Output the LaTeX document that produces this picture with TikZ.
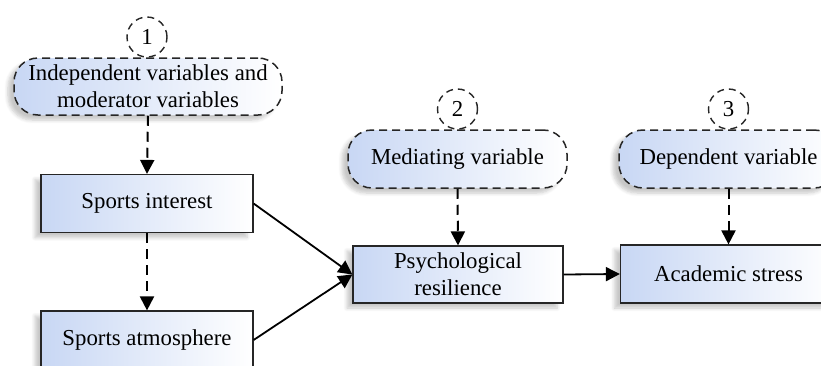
\documentclass[tikz,border=0pt]{standalone}
\usepackage{fontspec}
\setmainfont{Liberation Serif}
\usetikzlibrary{arrows.meta,shadows.blur}
\definecolor{boxblue}{RGB}{200,215,244}
\begin{document}
\begin{tikzpicture}[x=0.5pt,y=-0.5pt,
  every node/.style={font=\fontsize{11.4}{13.5}\selectfont, align=center, inner sep=0pt},
  bluefill/.style={left color=boxblue, right color=white},
  softshadow/.style={blur shadow={shadow xshift=-3pt,shadow yshift=-2.5pt,shadow blur steps=6,shadow opacity=22}},
  sbox/.style={rectangle, draw=black!85, line width=0.6pt, bluefill, softshadow},
  rbox/.style={rectangle, draw=black!85, line width=0.75pt, dash pattern=on 4pt off 2.5pt, rounded corners=12pt, bluefill, softshadow},
  numcirc/.style={circle, draw=black!85, line width=0.7pt, dash pattern=on 3.5pt off 2.5pt, minimum size=20pt, fill=white},
  darr/.style={-{Triangle[width=7pt,length=7pt]}, line width=1pt, dash pattern=on 5pt off 3pt},
  sarr/.style={-{Triangle[width=7pt,length=7pt]}, line width=0.9pt}]
\useasboundingbox (0,0) rectangle (821,365);
\clip (0,0) rectangle (821,365);

\node[rbox, minimum width=134pt, minimum height=28.5pt] (ind) at (148,86.5) {Independent variables and\\moderator variables};
\node[numcirc] (c1) at (147,37) {1};

\node[sbox, minimum width=106pt, minimum height=29pt] (si) at (147,203.5) {Sports interest};
\node[sbox, minimum width=106pt, minimum height=29pt] (sa) at (147,340) {Sports atmosphere};

\node[rbox, minimum width=109.5pt, minimum height=29pt] (med) at (457.5,159) {Mediating variable};
\node[numcirc] (c2) at (457.5,109) {2};

\node[rbox, minimum width=109.5pt, minimum height=29pt] (dep) at (728.5,159) {Dependent variable};
\node[numcirc] (c3) at (728.5,109) {3};

\node[sbox, minimum width=105pt, minimum height=28.5pt] (psy) at (458,274.5) {Psychological\\resilience};
\node[sbox, minimum width=108pt, minimum height=29pt] (aca) at (728.5,274) {Academic stress};

\draw[darr] (ind.south) -- (si.north);
\draw[darr] (si.south) -- (sa.north);
\draw[darr] (med.south) -- (psy.north);
\draw[darr] (dep.south) -- (aca.north);
\draw[sarr] (si.east) -- (psy.west);
\draw[sarr] (sa.east) -- (psy.west);
\draw[sarr] (psy.east) -- (aca.west);
\end{tikzpicture}
\end{document}
